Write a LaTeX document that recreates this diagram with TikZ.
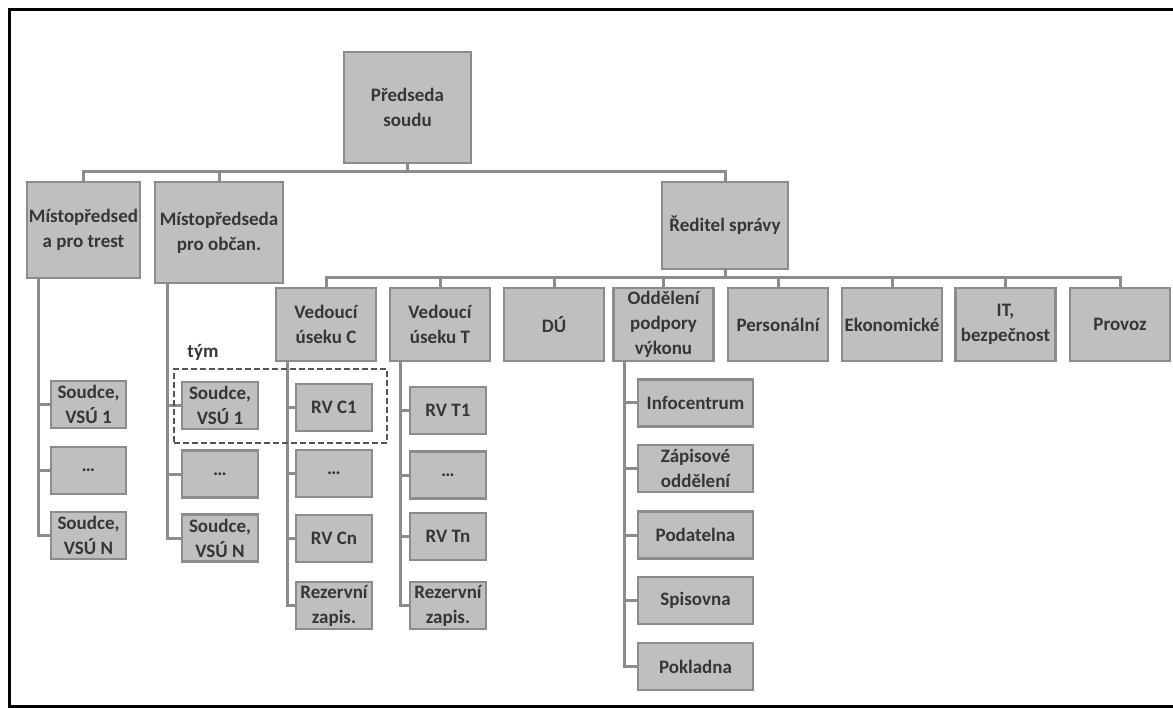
\documentclass[tikz,border=0pt]{standalone}
\usepackage{fontspec}
\setmainfont{Carlito}
\usepackage{tikz}
\definecolor{boxfill}{HTML}{BFBFBF}
\definecolor{boxline}{HTML}{8C8C8C}
\definecolor{boxtext}{HTML}{363636}
\definecolor{teamline}{HTML}{555555}
\tikzstyle{unit}=[draw=boxline, fill=boxfill, line width=2.5pt, inner sep=0, outer sep=0,
                  align=center, text=boxtext, font=\bfseries\fontsize{19}{25}\selectfont]
\tikzstyle{deptunit}=[unit, minimum width=100pt, minimum height=73pt]
\tikzstyle{subunit}=[unit, minimum width=76pt, minimum height=47pt]
\tikzstyle{officeunit}=[unit, minimum width=115pt, minimum height=47pt]
\tikzstyle{link}=[draw=boxline, line width=3pt]
\tikzstyle{team}=[draw=teamline, line width=2pt, dash pattern=on 6pt off 3pt, inner sep=0, outer sep=0]
\tikzstyle{orgchart}=[x=1pt, y=-1pt,
                      % Pixel grid of the page, frame runs past the right edge.
                      execute at begin picture={\useasboundingbox (0,0) rectangle (1173,708); \clip (0,0) rectangle (1173,708);}]

\begin{document}
\begin{tikzpicture}[orgchart]
        \draw[line width=3pt] (9.5,9.5) rectangle (1200,706.5);
        % Top level.
        \node[unit, minimum width=127pt, minimum height=111pt] (boss) at (407.5,107.5) {Předseda\\soudu};
        \node[unit, minimum width=113pt, minimum height=96pt]  (vpt) at (83.5,230)    {Místopředsed\\a pro trest};
        \node[unit, minimum width=128pt, minimum height=101pt] (vpo) at (219,232.5)   {Místopředseda\\pro občan.};
        \node[unit, minimum width=126pt, minimum height=87pt]  (dir) at (725,225.5)   {Ředitel správy};
        \draw[link] (boss.south) -- ++(0,9) -| (vpt.north);
        \draw[link] (boss.south) -- ++(0,9) -| (vpo.north);
        \draw[link] (boss.south) -- ++(0,9) -| (dir.north);
        % Departments.
        \node[deptunit] (vedC)   at (326,324.5)    {Vedoucí\\úseku C};
        \node[deptunit] (vedT)   at (440,324.5)    {Vedoucí\\úseku T};
        \node[deptunit] (du)     at (554,324.5)    {DÚ};
        \node[deptunit] (odd)    at (663.5,324.5)  {Oddělení\\podpory\\výkonu};
        \node[deptunit] (pers)   at (778,324.5)    {Personální};
        \node[deptunit] (ekon)   at (892,324.5)    {Ekonomické};
        \node[deptunit] (it)     at (1005.5,324.5) {IT,\\bezpečnost};
        \node[deptunit] (provoz) at (1120,324.5)   {Provoz};
        \foreach \dept in {vedC,vedT,du,odd,pers,ekon,it,provoz}
            \draw[link] (dir.south) -- ++(0,9) -| (\dept.north);
        % Judges.
        \node[subunit, minimum width=75pt] (j11) at (88.5,404.5) {Soudce,\\VSÚ 1};
        \node[subunit, minimum width=75pt] (j12) at (88.5,470.5) {…};
        \node[subunit, minimum width=75pt] (j13) at (88.5,535.5) {Soudce,\\VSÚ N};
        \node[subunit] (j21) at (220,405.5) {Soudce,\\VSÚ 1};
        \node[subunit] (j22) at (220,474)   {…};
        \node[subunit] (j23) at (220,538)   {Soudce,\\VSÚ N};
        \draw[link] ([xshift=11pt]vpt.south west) |- (j11.west);
        \draw[link] ([xshift=11pt]vpt.south west) |- (j12.west);
        \draw[link] ([xshift=11pt]vpt.south west) |- (j13.west);
        \draw[link] ([xshift=12pt]vpo.south west) |- (j21.west);
        \draw[link] ([xshift=12pt]vpo.south west) |- (j22.west);
        \draw[link] ([xshift=12pt]vpo.south west) |- (j23.west);
        % Registry clerks.
        \node[subunit] (rc1) at (334,407.5) {RV C1};
        \node[subunit] (rc2) at (334,473.5) {…};
        \node[subunit] (rc3) at (334,538.5) {RV Cn};
        \node[subunit] (rc4) at (334,605.5) {Rezervní\\zapis.};
        \node[subunit] (rt1) at (448,410.5) {RV T1};
        \node[subunit] (rt2) at (448,475)   {…};
        \node[subunit] (rt3) at (448,536.5) {RV Tn};
        \node[subunit] (rt4) at (448,605.5) {Rezervní\\zapis.};
        \draw[link] ([xshift=11pt]vedC.south west) |- (rc1.west);
        \draw[link] ([xshift=11pt]vedC.south west) |- (rc2.west);
        \draw[link] ([xshift=11pt]vedC.south west) |- (rc3.west);
        \draw[link] ([xshift=11pt]vedC.south west) |- (rc4.west);
        \draw[link] ([xshift=10.5pt]vedT.south west) |- (rt1.west);
        \draw[link] ([xshift=10.5pt]vedT.south west) |- (rt2.west);
        \draw[link] ([xshift=10.5pt]vedT.south west) |- (rt3.west);
        \draw[link] ([xshift=10.5pt]vedT.south west) |- (rt4.west);
        % Support offices.
        \node[officeunit] (info)  at (695.5,403)   {Infocentrum};
        \node[officeunit] (zapis) at (695.5,468.5) {Zápisové\\oddělení};
        \node[officeunit] (podat) at (695.5,535)   {Podatelna};
        \node[officeunit] (spis)  at (695.5,600.5) {Spisovna};
        \node[officeunit] (pokl)  at (695.5,666.5) {Pokladna};
        \foreach \office in {info,zapis,podat,spis,pokl}
            \draw[link] ([xshift=10.5pt]odd.south west) |- (\office.west);
        % Team.
        \node[team, minimum width=213pt, minimum height=74pt] (team) at (280.5,406) {};
        \node[text=boxtext, font=\bfseries\fontsize{19}{25}\selectfont] (teamlabel) at (203,352) {tým};
    \end{tikzpicture}
\end{document}
